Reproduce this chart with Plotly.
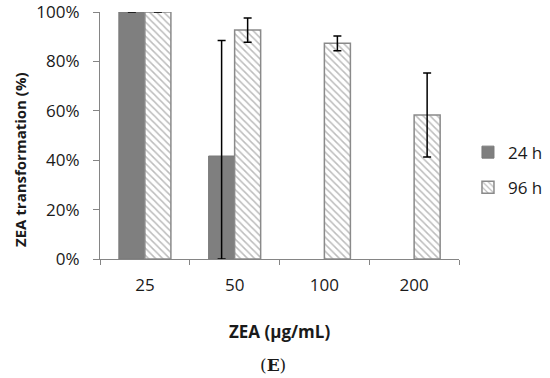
import plotly.graph_objects as go

categories = ["25", "50", "100", "200"]
vals_24h = [100, 41.7, None, None]
err_24h_plus = [0, 46.8, None, None]
err_24h_minus = [0, 41.7, None, None]
vals_96h = [100, 92.7, 87.3, 58.3]
err_96h = [0, 4.9, 3.0, 17.0]
y_ticks = [0, 20, 40, 60, 80, 100]
y_tick_labels = ["0%", "20%", "40%", "60%", "80%", "100%"]

FONT = "Open Sans"
GRAY = "#858585"

fig = go.Figure()
fig.add_trace(go.Bar(
    x=categories, y=vals_24h, name="24 h", legendgroup="a",
    marker=dict(color="#7f7f7f", line=dict(color="#7a7a7a", width=1)),
    error_y=dict(type="data", array=err_24h_plus, arrayminus=err_24h_minus,
                 symmetric=False, color="black", thickness=1.5, width=4),
))
fig.add_trace(go.Bar(
    x=categories, y=vals_96h, name="96 h", legendgroup="b",
    marker=dict(color="white", line=dict(color="#8a8a8a", width=1.5),
                pattern=dict(shape="\\", fgcolor="#7a7a7a", bgcolor="white",
                             size=5, solidity=0.3)),
    error_y=dict(type="data", array=err_96h, color="black", thickness=1.5, width=4),
))

fig.update_layout(
    width=550, height=378,
    margin=dict(l=100, r=91, t=12, b=119, autoexpand=False),
    paper_bgcolor="white", plot_bgcolor="white",
    barmode="group", bargap=0.42, bargroupgap=0,
    font=dict(family=FONT, size=17, color="#1a1a1a"),
    legend=dict(x=1.025, xanchor="left", y=0.36, yanchor="middle",
                traceorder="grouped", tracegroupgap=10,
                font=dict(family=FONT, size=17, color="#1a1a1a"),
                itemwidth=30, bgcolor="rgba(0,0,0,0)"),
    showlegend=True,
)
fig.update_xaxes(
    type="category", showline=True, linecolor=GRAY, linewidth=1.2,
    ticks="outside", tickson="boundaries", ticklen=5, tickcolor=GRAY,
    showgrid=False, ticklabelstandoff=10, tickfont=dict(size=17),
    automargin=False, ticklabeloverflow="allow",
)
fig.update_yaxes(
    range=[0, 100], tickmode="array", tickvals=y_ticks, ticktext=y_tick_labels,
    showline=True, linecolor=GRAY, linewidth=1.2,
    ticks="outside", ticklen=6, tickcolor=GRAY, showgrid=False, zeroline=False,
    ticklabelstandoff=10, tickfont=dict(size=17),
    automargin=False, ticklabeloverflow="allow",
)

fig.add_annotation(text="<b>ZEA transformation (%)</b>", textangle=-90,
                   xref="paper", yref="paper", x=-0.2228, y=(259 - 160) / 247,
                   xanchor="center", yanchor="middle", showarrow=False,
                   font=dict(family=FONT, size=15, color="#1a1a1a"))
fig.add_annotation(text="<b>ZEA (μg/mL)</b>",
                   xref="paper", yref="paper", x=0.5, y=(259 - 331) / 247,
                   xanchor="center", yanchor="middle", showarrow=False,
                   font=dict(family=FONT, size=17, color="#1a1a1a"))
fig.add_annotation(text="(<b>E</b>)",
                   xref="paper", yref="paper", x=(273 - 100) / 359, y=(259 - 365) / 247,
                   xanchor="center", yanchor="middle", showarrow=False,
                   font=dict(family="DejaVu Serif", size=17, color="#1a1a1a"))

fig.write_html("out.html", config={"displayModeBar": False},
               post_script="document.body.style.margin='0';")
